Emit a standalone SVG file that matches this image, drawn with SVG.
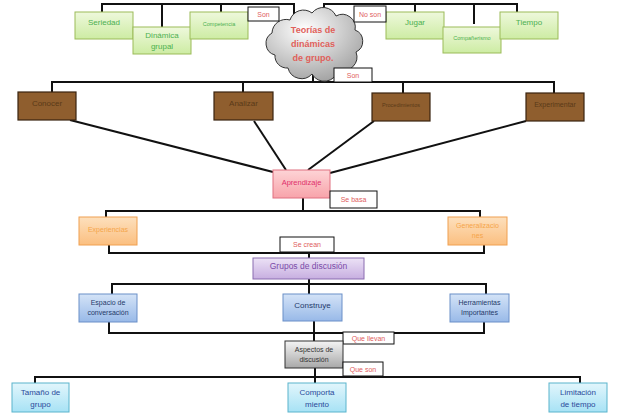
<svg xmlns="http://www.w3.org/2000/svg" width="638" height="413" viewBox="0 0 638 413">
<defs>
<linearGradient id="gGreen" x1="0" y1="0" x2="0" y2="1"><stop offset="0" stop-color="#eef8dc"/><stop offset="1" stop-color="#cdeca3"/></linearGradient>
<linearGradient id="gOrange" x1="0" y1="0" x2="0" y2="1"><stop offset="0" stop-color="#fde0bd"/><stop offset="1" stop-color="#fbbf80"/></linearGradient>
<linearGradient id="gBlue" x1="0" y1="0" x2="0" y2="1"><stop offset="0" stop-color="#d4e3f7"/><stop offset="1" stop-color="#98b9e8"/></linearGradient>
<linearGradient id="gCyan" x1="0" y1="0" x2="0" y2="1"><stop offset="0" stop-color="#e2f6fc"/><stop offset="1" stop-color="#a7e2f5"/></linearGradient>
<linearGradient id="gPurple" x1="0" y1="0" x2="0" y2="1"><stop offset="0" stop-color="#ece2f6"/><stop offset="1" stop-color="#c7aee0"/></linearGradient>
<linearGradient id="gPink" x1="0" y1="0" x2="0" y2="1"><stop offset="0" stop-color="#fdd4d6"/><stop offset="1" stop-color="#f8a3aa"/></linearGradient>
<linearGradient id="gGray" x1="0" y1="0" x2="0" y2="1"><stop offset="0" stop-color="#f4f4f4"/><stop offset="1" stop-color="#a8a8a8"/></linearGradient>
<radialGradient id="gCloud" cx="0.4" cy="0.3" r="0.8"><stop offset="0" stop-color="#ffffff"/><stop offset="1" stop-color="#9a9a9a"/></radialGradient>
</defs>
<style>
text{font-family:"Liberation Sans","DejaVu Sans",sans-serif;text-anchor:middle;dominant-baseline:central}
.conn line,.conn polyline{stroke:#111;stroke-width:2;fill:none}
.green rect{fill:url(#gGreen);stroke:#9bbb59;stroke-width:1}
.green text{fill:#4cb050;font-size:8px}
.brown rect{fill:#8f5e2e;stroke:#3a2410;stroke-width:1.2}
.brown text{fill:#5a3a18;font-size:8px}
.orange rect{fill:url(#gOrange);stroke:#f0a050;stroke-width:1}
.orange text{fill:#f5a54a;font-size:7px}
.blue rect{fill:url(#gBlue);stroke:#6a8fc8;stroke-width:1}
.blue text{fill:#253a6a;font-size:7px}
.cyan rect{fill:url(#gCyan);stroke:#5ab4cc;stroke-width:1}
.cyan text{fill:#2a4a9a;font-size:8px}
.lbl rect{fill:#fff;stroke:#111;stroke-width:1}
.lbl text{fill:#e06060;font-size:7px}
</style>

<g class="conn" id="connectors">
<polyline points="102,12 102,4 294,4 294,18"/>
<line x1="162" y1="4" x2="162" y2="27"/>
<line x1="221" y1="4" x2="221" y2="12"/>
<polyline points="324,14 324,4 517,4 517,12"/>
<line x1="415" y1="4" x2="415" y2="12"/>
<line x1="474" y1="4" x2="474" y2="24"/>
<line x1="313" y1="72" x2="313" y2="82"/>
<polyline points="52,92 52,82 554,82 554,93"/>
<line x1="243" y1="82" x2="243" y2="92"/>
<line x1="403" y1="82" x2="403" y2="93"/>
<line x1="70" y1="120" x2="273" y2="172"/>
<line x1="254" y1="121" x2="286" y2="170"/>
<line x1="374" y1="121" x2="308" y2="170"/>
<line x1="526" y1="121" x2="330" y2="173"/>
<line x1="303" y1="197" x2="303" y2="211"/>
<polyline points="106,217 106,211 480,211 480,217"/>
<polyline points="109,245 109,253 484,253 484,245"/>
<line x1="309" y1="253" x2="309" y2="258"/>
<line x1="309" y1="279" x2="309" y2="294"/>
<polyline points="112,294 112,284 486,284 486,294"/>
<polyline points="109,322 109,333 484,333 484,322"/>
<line x1="314" y1="321" x2="314" y2="341"/>
<line x1="315" y1="368" x2="315" y2="383"/>
<polyline points="35,383 35,377 580,377 580,383"/>
</g>

<g id="teorias">
<path d="M275,55 A12,12 0 0,1 272,33 A14,14 0 0,1 290,20 A14,14 0 0,1 312,13 A14,14 0 0,1 336,16 A13,13 0 0,1 355,30 A12,12 0 0,1 356,52 A14,14 0 0,1 338,70 A14,14 0 0,1 312,74 A14,14 0 0,1 288,68 A12,12 0 0,1 275,55 Z" fill="url(#gCloud)" stroke="#333" stroke-width="1"/>
<text x="313" y="30" fill="#e0605a" font-size="9" font-weight="bold">Teorías de</text>
<text x="313" y="44" fill="#e0605a" font-size="9" font-weight="bold">dinámicas</text>
<text x="313" y="58" fill="#e0605a" font-size="9" font-weight="bold">de grupo.</text>
</g>

<g id="seriedad" class="green"><rect x="75" y="12" width="58" height="27"/><text x="104" y="22">Seriedad</text></g>
<g id="dinamica" class="green"><rect x="133" y="27" width="58" height="27"/><text x="162" y="35">Dinámica</text><text x="162" y="46">grupal</text></g>
<g id="competencia" class="green"><rect x="190" y="12" width="58" height="27"/><text x="219" y="24" style="font-size:5.5px">Competencia</text></g>
<g id="jugar" class="green"><rect x="386" y="12" width="58" height="27"/><text x="415" y="22">Jugar</text></g>
<g id="companerismo" class="green"><rect x="443" y="27" width="58" height="26"/><text x="472" y="38" style="font-size:5.5px">Compañerismo</text></g>
<g id="tiempo" class="green"><rect x="500" y="12" width="58" height="27"/><text x="529" y="22">Tiempo</text></g>

<g id="lbl-son1" class="lbl"><rect x="248" y="7" width="31" height="14"/><text x="263.5" y="14">Son</text></g>
<g id="lbl-noson" class="lbl"><rect x="354" y="6" width="32" height="16"/><text x="370" y="14">No son</text></g>
<g id="lbl-son2" class="lbl"><rect x="334" y="68" width="38" height="14"/><text x="353" y="75">Son</text></g>

<g id="conocer" class="brown"><rect x="18" y="92" width="58" height="28"/><text x="47" y="103">Conocer</text></g>
<g id="analizar" class="brown"><rect x="214" y="92" width="59" height="28"/><text x="243.5" y="103">Analizar</text></g>
<g id="procedimientos" class="brown"><rect x="372" y="93" width="58" height="28"/><text x="401" y="105" style="font-size:5.5px">Procedimientos</text></g>
<g id="experimentar" class="brown"><rect x="526" y="93" width="58" height="28"/><text x="555" y="104" style="font-size:7px">Experimentar</text></g>

<g id="aprendizaje"><rect x="273" y="170" width="57" height="28" fill="url(#gPink)" stroke="#e07080" stroke-width="1"/><text x="301.5" y="182" fill="#e0306a" font-size="7.5">Aprendizaje</text></g>
<g id="lbl-sebasa" class="lbl"><rect x="330" y="191" width="47" height="17"/><text x="353.5" y="199.5">Se basa</text></g>

<g id="experiencias" class="orange"><rect x="79" y="217" width="58" height="28"/><text x="108" y="229">Experiencias</text></g>
<g id="generalizaciones" class="orange"><rect x="448" y="217" width="59" height="28"/><text x="477.5" y="225">Generalizacio</text><text x="477.5" y="235">nes</text></g>
<g id="lbl-secrean" class="lbl"><rect x="280" y="237" width="54" height="15"/><text x="307" y="244.5">Se crean</text></g>

<g id="grupos"><rect x="253" y="258" width="111" height="21" fill="url(#gPurple)" stroke="#8a6cb0" stroke-width="1"/><text x="308.5" y="266" fill="#7a4aa8" font-size="8.5">Grupos de discusión</text></g>

<g id="espacio" class="blue"><rect x="79" y="294" width="58" height="28"/><text x="108" y="302">Espacio de</text><text x="108" y="312">conversación</text></g>
<g id="construye" class="blue"><rect x="283" y="294" width="59" height="27"/><text x="312.5" y="305" style="font-size:8px">Construye</text></g>
<g id="herramientas" class="blue"><rect x="450" y="294" width="59" height="28"/><text x="479.5" y="302">Herramientas</text><text x="479.5" y="312">Importantes</text></g>

<g id="lbl-quellevan" class="lbl"><rect x="343" y="332" width="51" height="12"/><text x="368.5" y="338">Que llevan</text></g>
<g id="aspectos"><rect x="285" y="341" width="58" height="27" fill="url(#gGray)" stroke="#333" stroke-width="1"/><text x="314" y="349" fill="#333" font-size="7">Aspectos de</text><text x="314" y="359" fill="#333" font-size="7">discusión</text></g>
<g id="lbl-queson" class="lbl"><rect x="343" y="362" width="40" height="14"/><text x="363" y="369">Que son</text></g>

<g id="tamano" class="cyan"><rect x="12" y="383" width="57" height="29"/><text x="40.5" y="392">Tamaño de</text><text x="40.5" y="404">grupo</text></g>
<g id="comportamiento" class="cyan"><rect x="288" y="383" width="58" height="29"/><text x="317" y="392">Comporta</text><text x="317" y="404">miento</text></g>
<g id="limitacion" class="cyan"><rect x="549" y="383" width="58" height="29"/><text x="578" y="392">Limitación</text><text x="578" y="404">de tiempo</text></g>
</svg>
